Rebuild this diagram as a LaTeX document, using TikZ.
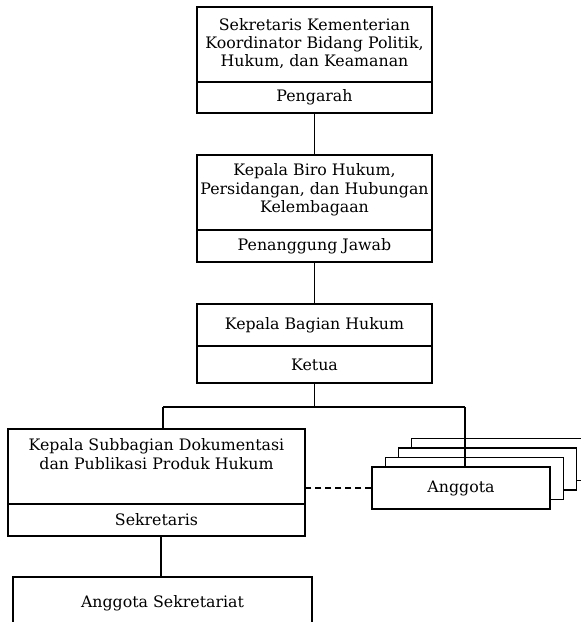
\documentclass[tikz,border=0pt]{standalone}
\usepackage{fontspec}
\setmainfont{DejaVu Serif}
\begin{document}
\begin{tikzpicture}[x=1pt,y=-1pt,
  box/.style={draw,line width=1.1pt,inner sep=0pt,fill=white},
  txt/.style={font=\fontsize{15.8}{18.3}\selectfont,align=center},
  link/.style={line width=1.1pt}]
\clip (0,0) rectangle (581,622);
% level 1
\node[box,minimum width=235pt,minimum height=75pt] (pengarahT) at (314.5,44.5) {};
\node[txt] (pengarahTxt) at (314.5,43.5) {Sekretaris Kementerian\\Koordinator Bidang Politik,\\Hukum, dan Keamanan};
\node[box,minimum width=235pt,minimum height=31pt,txt] (pengarah) at (314.5,97.5) {Pengarah};
% level 2
\node[box,minimum width=235pt,minimum height=75pt] (pjT) at (314.5,192.5) {};
\node[txt] (pjTxt) at (314.5,190) {Kepala Biro Hukum,\\Persidangan, dan Hubungan\\Kelembagaan};
\node[box,minimum width=235pt,minimum height=32pt,txt] (pj) at (314.5,246) {Penanggung Jawab};
% level 3
\node[box,minimum width=235pt,minimum height=42pt,txt] (ketuaT) at (314.5,325) {Kepala Bagian Hukum};
\node[box,minimum width=235pt,minimum height=37pt,txt] (ketua) at (314.5,364.5) {Ketua};
% secretary
\node[box,minimum width=297pt,minimum height=75pt] (kasubT) at (156.5,466.5) {};
\node[txt] (kasubTxt) at (156.5,454) {Kepala Subbagian Dokumentasi\\dan Publikasi Produk Hukum};
\node[box,minimum width=297pt,minimum height=32pt,txt] (sekr) at (156.5,520) {Sekretaris};
% members stack
\node[box,minimum width=178pt,minimum height=42pt] (back3) at (500.9,459.5) {};
\node[box,minimum width=178pt,minimum height=42pt] (back2) at (487.6,469) {};
\node[box,minimum width=178pt,minimum height=42pt] (back1) at (474.3,478.5) {};
\coordinate (busL) at (163,407);
\coordinate (busR) at (465,407);
\draw[link] (busR) -- (465,467);
\node[box,minimum width=178pt,minimum height=42pt,txt] (anggota) at (461,488) {Anggota};
% secretariat members
\node[box,minimum width=299pt,minimum height=60pt] (angsek) at (162.5,607) {};
\node[txt] (angsekTxt) at (162.5,603) {Anggota Sekretariat};
% connectors
\draw[link] (pengarah.south) -- (pjT.north);
\draw[link] (pj.south) -- (ketuaT.north);
\draw[link] (ketua.south) -- (ketua.south |- busL);
\draw[link] (busL) -- (busR);
\draw[link] (busL) -- (busL |- kasubT.north);
\draw[link,dash pattern=on 6pt off 4pt] (anggota.west) -- (anggota.west -| kasubT.east);
\draw[link] ([xshift=4.5pt]sekr.south) -- ([xshift=4.5pt]sekr.south |- angsek.north);
\end{tikzpicture}
\end{document}
